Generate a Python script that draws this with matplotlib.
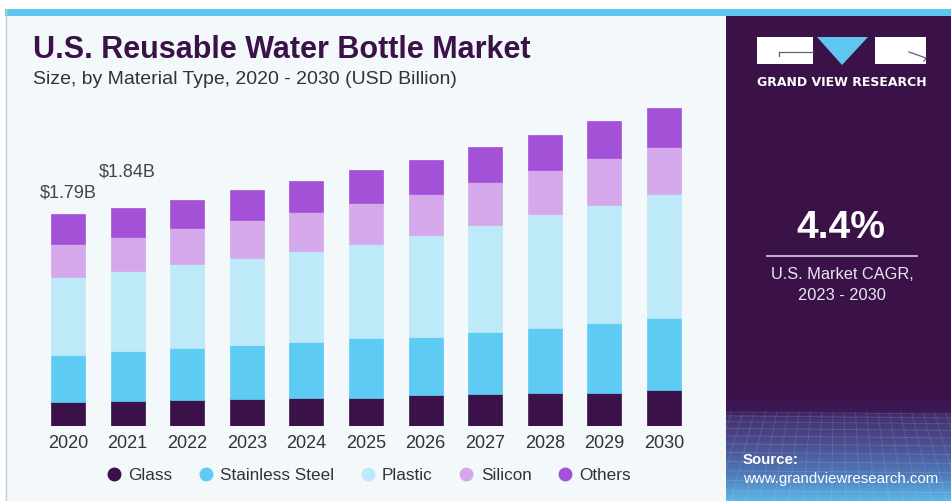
import numpy as np
import matplotlib
matplotlib.use("Agg")
import matplotlib.pyplot as plt
from matplotlib.patches import Rectangle, Polygon
from matplotlib.lines import Line2D
from matplotlib.colors import LinearSegmentedColormap

years = ['2020', '2021', '2022', '2023', '2024', '2025', '2026', '2027', '2028', '2029', '2030']
glass = [0.20, 0.21, 0.22, 0.23, 0.24, 0.24, 0.26, 0.27, 0.28, 0.28, 0.30]
stainless = [0.40, 0.42, 0.44, 0.45, 0.47, 0.50, 0.49, 0.52, 0.55, 0.59, 0.61]
plastic = [0.66, 0.68, 0.71, 0.74, 0.77, 0.80, 0.86, 0.91, 0.96, 1.00, 1.05]
silicon = [0.28, 0.29, 0.30, 0.32, 0.33, 0.34, 0.35, 0.36, 0.37, 0.39, 0.40]
others = [0.25, 0.24, 0.24, 0.25, 0.26, 0.28, 0.29, 0.30, 0.30, 0.32, 0.33]
series_names = ['Glass', 'Stainless Steel', 'Plastic', 'Silicon', 'Others']
colors = ['#3a1149', '#5ecbf5', '#bde9f8', '#d4a8ea', '#a352d7']
value_labels = {0: '$1.79B', 1: '$1.84B'}

plt.rcParams['font.family'] = ['Liberation Sans', 'DejaVu Sans']

W, H = 951, 502
fig = plt.figure(figsize=(W / 100, H / 100), dpi=100)
fig.patch.set_facecolor('white')

# background drawing in pixel coordinates
bg = fig.add_axes([0, 0, 1, 1])
bg.add_patch(Rectangle((5, 10), W - 5, 7, color='#5ec6ef', lw=0))
bg.add_patch(Rectangle((5, 17), 721, H - 17, color='#f3f8fb', lw=0))
bg.plot([5.5, 5.5], [10, H], color='#c8cdd2', lw=1)
bg.add_patch(Rectangle((726, 17), W - 726, H - 17, color='#3a1248', lw=0))

# bottom gradient of the side panel (row 0 = top, dark)
grad = np.linspace(0, 1, 200)[:, None] * np.ones((1, 50))
cmap = LinearSegmentedColormap.from_list(
    'g', [(0, '#3a1248'), (0.17, '#3c1a58'), (0.2, '#43306e'), (0.45, '#4a4c8e'),
          (0.75, '#4f79b8'), (1, '#5db6e6')])
bg.imshow(grad, extent=(726, W, H, 395), cmap=cmap, aspect='auto', zorder=1,
          origin='upper', interpolation='bilinear')
ys = 413 + (np.linspace(0, 1, 12) ** 1.3) * (H - 413)
for yy in ys:
    bg.plot([726, W], [yy, yy + 2], color='white', alpha=0.13, lw=0.7, zorder=2)
for xx in np.linspace(726, W, 26):
    bg.plot([xx + (xx - 838) * 0.25, xx + (xx - 838) * 0.6], [413, H], color='white',
            alpha=0.11, lw=0.7, zorder=2)
bg.set_xlim(0, W)
bg.set_ylim(H, 0)
bg.axis('off')

# logo
bg.add_patch(Rectangle((757, 38), 56, 27, color='white', lw=0, zorder=3))
bg.add_patch(Polygon([[817, 38], [868, 38], [842, 66]], closed=True, color='#5ec6ef', lw=0, zorder=3))
bg.add_patch(Rectangle((875, 38), 51, 27, color='white', lw=0, zorder=3))
bg.plot([779, 813], [53, 53], color='#6a5a78', lw=0.9, zorder=4)
bg.plot([779, 779], [53, 57], color='#6a5a78', lw=0.9, zorder=4)
bg.plot([909, 926, 924], [53, 59, 62], color='#6a5a78', lw=0.9, zorder=4)
bg.text(841.5, 82, 'GRAND VIEW RESEARCH', color='white', fontsize=9, fontweight='bold',
        ha='center', va='center', family=['DejaVu Sans'], zorder=4)

# CAGR block
bg.text(841, 228, '4.4%', color='white', fontsize=28, fontweight='bold',
        ha='center', va='center', zorder=4)
bg.plot([767, 917], [256.5, 256.5], color='#d8cfe0', lw=1.2, zorder=4)
bg.text(842, 275, 'U.S. Market CAGR,', color='#ece6f1', fontsize=11.8,
        ha='center', va='center', zorder=4)
bg.text(842, 296, '2023 - 2030', color='#ece6f1', fontsize=11.8,
        ha='center', va='center', zorder=4)
bg.text(743, 460, 'Source:', color='white', fontsize=10.8, fontweight='bold',
        ha='left', va='center', zorder=4)
bg.text(743, 479, 'www.grandviewresearch.com', color='white', fontsize=10.8,
        ha='left', va='center', zorder=4)

# titles
bg.text(33, 50, 'U.S. Reusable Water Bottle Market', color='#3a1248', fontsize=22,
        fontweight='bold', ha='left', va='center', zorder=4)
bg.text(33, 79, 'Size, by Material Type, 2020 - 2030 (USD Billion)', color='#333333',
        fontsize=14, ha='left', va='center', zorder=4)

# chart
ax = fig.add_axes([38.2 / W, 75 / H, 655.6 / W, 355.2 / H])
ax.patch.set_alpha(0)
x = np.arange(len(years))
bottom = np.zeros(len(years))
for vals, name, c in zip([glass, stainless, plastic, silicon, others], series_names, colors):
    ax.bar(x, vals, width=0.57, bottom=bottom, color=c, edgecolor=c, lw=0.5, label=name)
    bottom += np.array(vals)
totals = bottom
for i, lab in value_labels.items():
    off = 22 if i == 0 else 37
    ax.annotate(lab, (x[i], totals[i]), xytext=(0, off), textcoords='offset pixels',
                ha='center', va='center', fontsize=13, color='#444444')
ax.set_xlim(-0.5, len(years) - 0.5)
ax.set_ylim(0, 3.0)
ax.set_xticks(x)
ax.set_xticklabels(years, fontsize=13, color='#333333')
ax.tick_params(axis='x', length=0, pad=6)
ax.set_yticks([])
for s in ax.spines.values():
    s.set_visible(False)

handles = [Line2D([], [], marker='o', ls='', markersize=9, color=c) for c in colors]
fig.legend(handles, series_names, loc='center', bbox_to_anchor=(368 / W, 1 - 476 / H),
           ncol=5, frameon=False, fontsize=12.3, handletextpad=0.35, columnspacing=1.45,
           handlelength=1.0, labelcolor='#333333')

fig.savefig('out.png', dpi=100, facecolor='white')
